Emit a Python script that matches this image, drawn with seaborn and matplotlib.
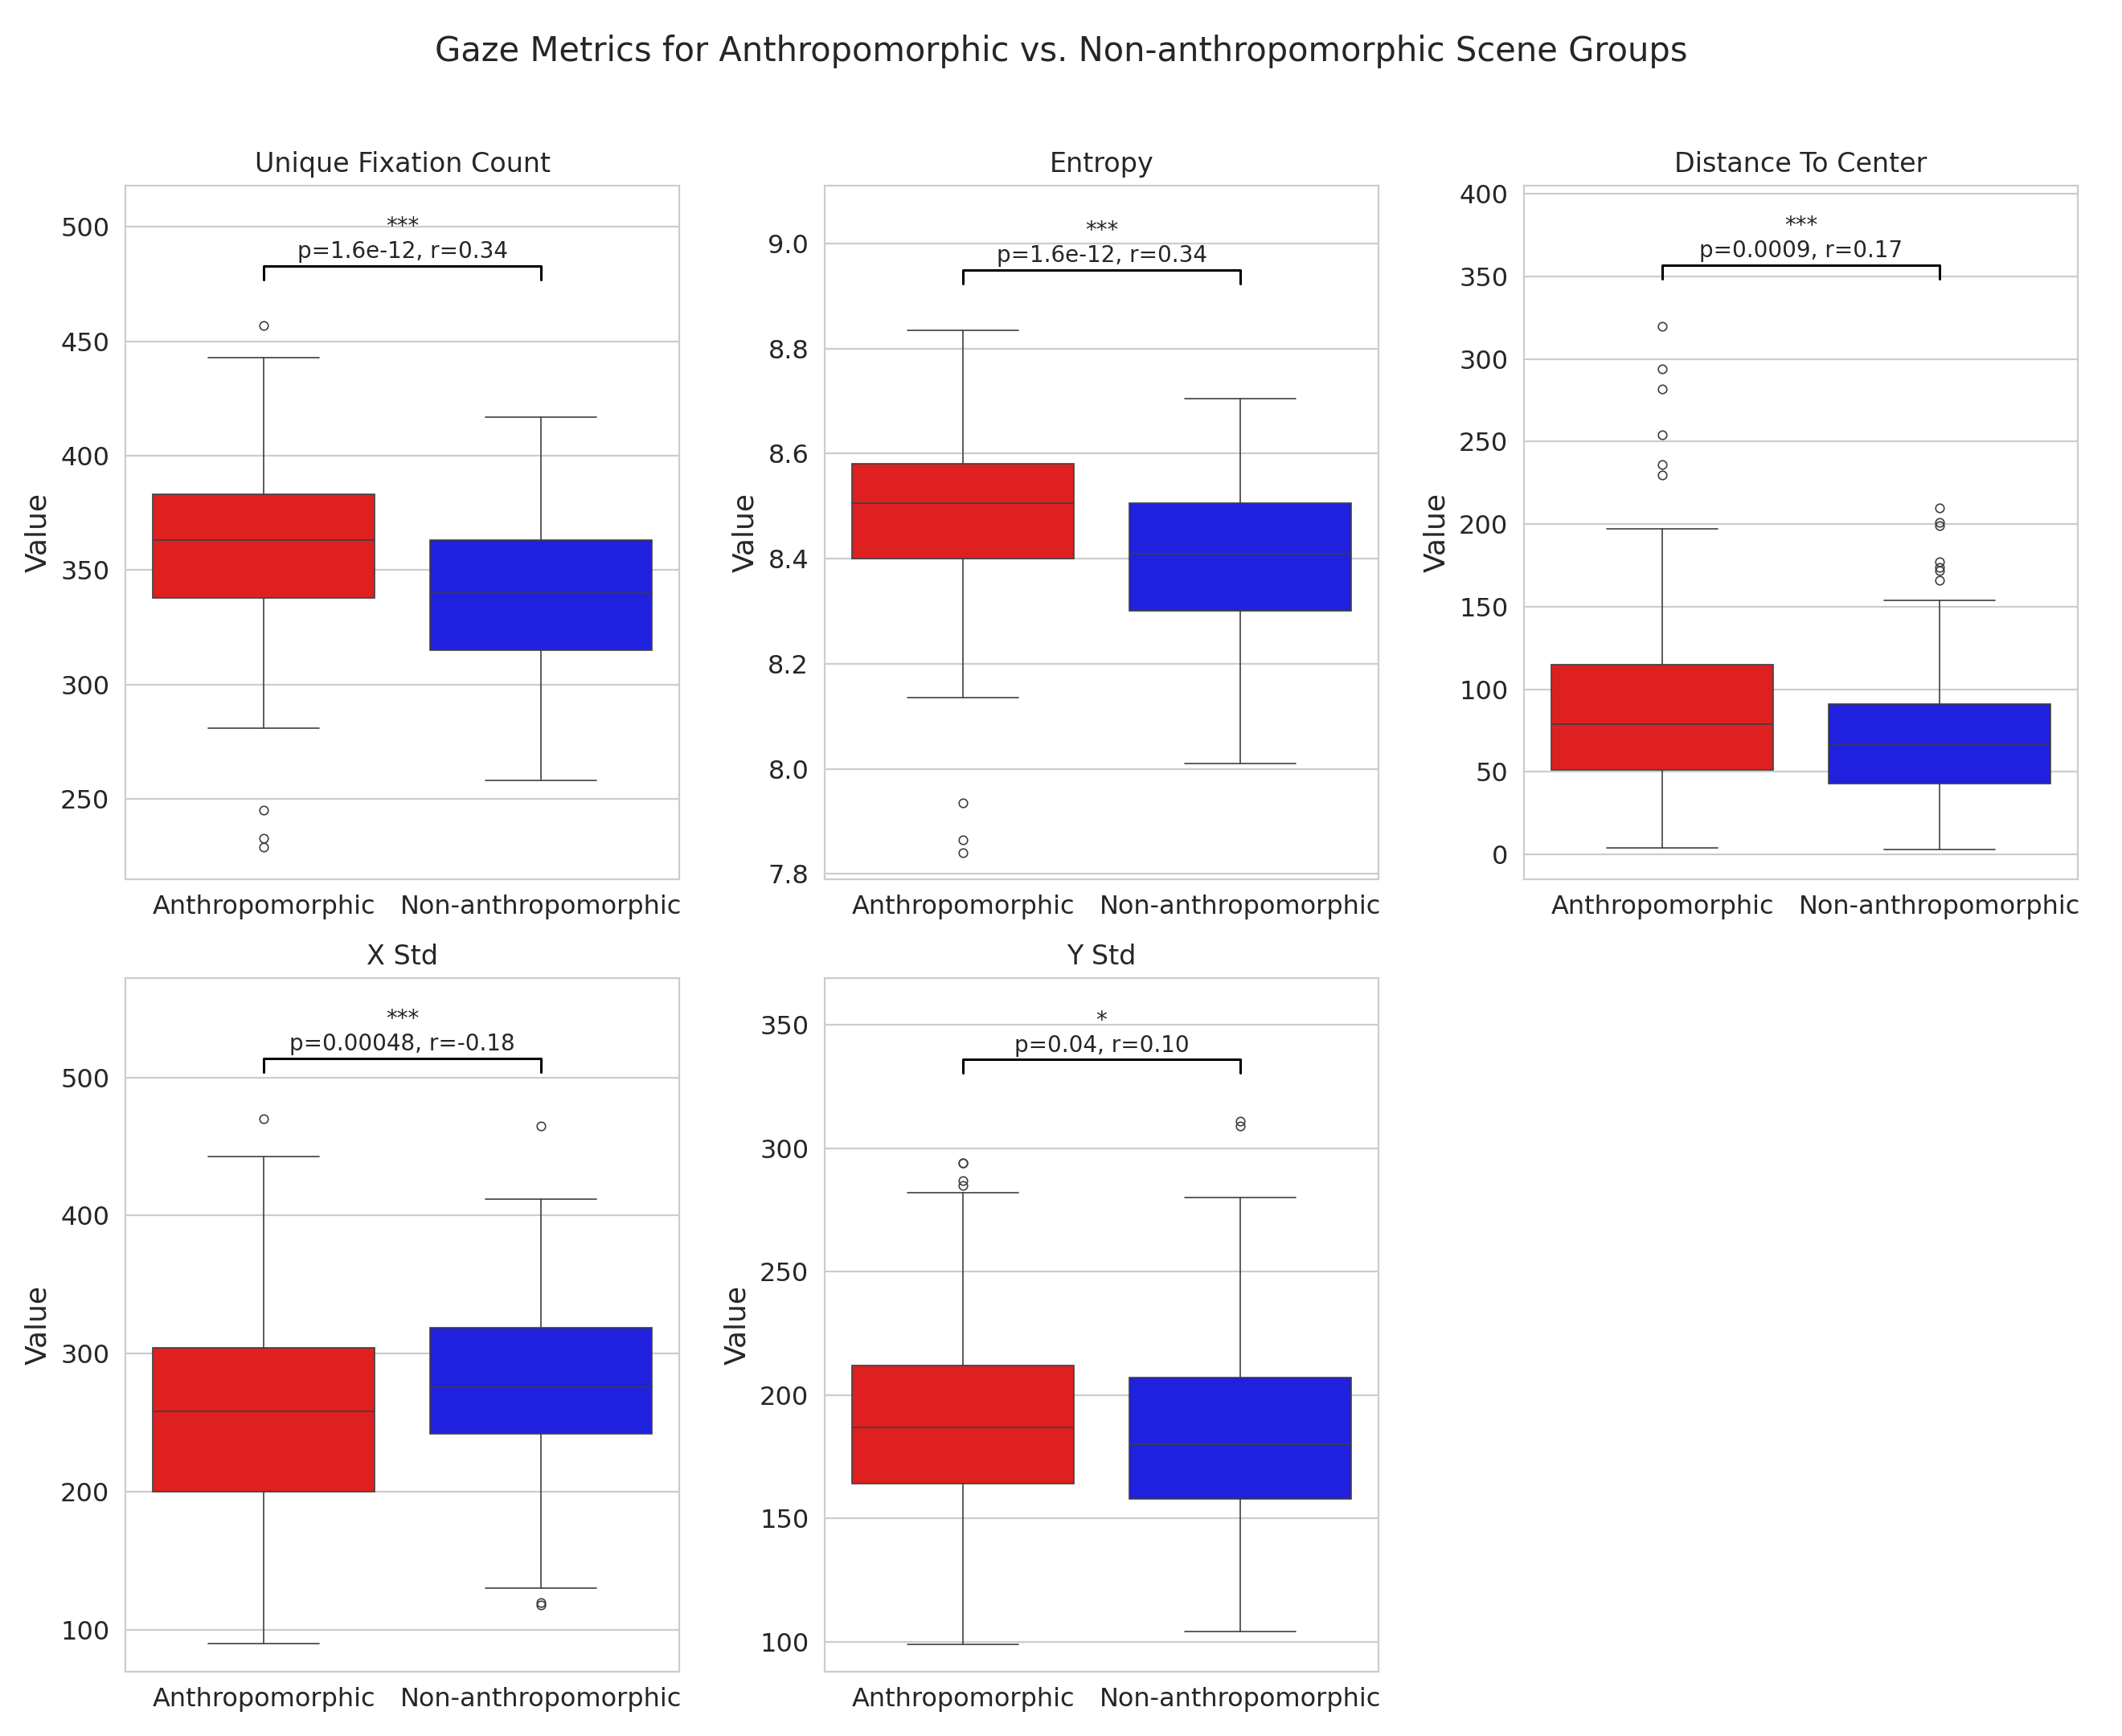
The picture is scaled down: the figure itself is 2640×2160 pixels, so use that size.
import matplotlib
matplotlib.use("Agg")
import matplotlib.pyplot as plt
import seaborn as sns

groups = ["Anthropomorphic", "Non-anthropomorphic"]
metrics = ["Unique Fixation Count", "Entropy", "Distance To Center", "X Std", "Y Std"]

# per metric, per group: (whislo, q1, med, q3, whishi)
stats_anthro = [
    (281, 338, 363, 383, 443),
    (8.135, 8.40, 8.505, 8.58, 8.835),
    (4, 51, 79, 115, 197),
    (90, 200, 258, 304, 443),
    (99, 164, 187, 212, 282),
]
stats_non = [
    (258, 315, 340, 363, 417),
    (8.01, 8.30, 8.41, 8.505, 8.705),
    (3, 43, 66, 91, 154),
    (130, 242, 276, 319, 412),
    (104, 158, 180, 207, 280),
]
fliers_anthro = [
    [457, 245, 233, 229],
    [7.935, 7.865, 7.84],
    [230, 236, 254, 282, 294, 320],
    [470],
    [285, 287, 294, 294],
]
fliers_non = [
    [],
    [],
    [166, 172, 174, 177, 199, 201, 210],
    [120, 118, 465],
    [309, 311],
]
stars = ["***", "***", "***", "***", "*"]
p_texts = ["p=1.6e-12, r=0.34", "p=1.6e-12, r=0.34", "p=0.0009, r=0.17",
           "p=0.00048, r=-0.18", "p=0.04, r=0.10"]
bracket_y = [483, 8.95, 357, 514, 336]
ylims = [(215, 518), (7.79, 9.11), (-15, 405), (70, 572), (88, 369)]

sns.set_style("whitegrid")
colors = [sns.desaturate("red", 0.75), sns.desaturate("blue", 0.75)]
lc = "#3f3f3f"

fig, axes = plt.subplots(2, 3, figsize=(13.2, 10.8), dpi=200)
axes = axes.flatten()
for i, name in enumerate(metrics):
    ax = axes[i]
    bstats = []
    for g, st, fl in zip(groups, [stats_anthro[i], stats_non[i]], [fliers_anthro[i], fliers_non[i]]):
        lo, q1, med, q3, hi = st
        bstats.append(dict(label=g, whislo=lo, q1=q1, med=med, q3=q3, whishi=hi, fliers=fl))
    bp = ax.bxp(bstats, positions=[0, 1], widths=0.8, patch_artist=True,
                boxprops=dict(edgecolor=lc, linewidth=0.6),
                medianprops=dict(color=lc, linewidth=0.6),
                whiskerprops=dict(color=lc, linewidth=0.6),
                capprops=dict(color=lc, linewidth=0.6),
                flierprops=dict(marker="o", markersize=3.8, markerfacecolor="none",
                                markeredgecolor=lc, markeredgewidth=0.6),
                capwidths=0.4)
    for patch, c in zip(bp["boxes"], colors):
        patch.set_facecolor(c)
    ax.set_xlim(-0.5, 1.5)
    ax.set_ylim(*ylims[i])
    ax.set_title(name, fontsize=12)
    ax.set_ylabel("Value", fontsize=13)
    ax.tick_params(labelsize=11.5)
    ax.grid(axis="x", visible=False)
    y0, y1 = ylims[i]
    h = (y1 - y0) * 0.02
    yb = bracket_y[i]
    ax.plot([0, 0, 1, 1], [yb - h, yb, yb, yb - h], color="black", linewidth=1.1)
    ax.text(0.5, yb + h * 0.2, p_texts[i], ha="center", va="bottom", fontsize=10)
    ax.text(0.5, yb + h * 2.0, stars[i], ha="center", va="bottom", fontsize=10)
axes[5].remove()

fig.suptitle("Gaze Metrics for Anthropomorphic vs. Non-anthropomorphic Scene Groups", fontsize=15)
fig.tight_layout(rect=(0, 0, 1, 0.96))
fig.savefig("out.png", dpi=200)
